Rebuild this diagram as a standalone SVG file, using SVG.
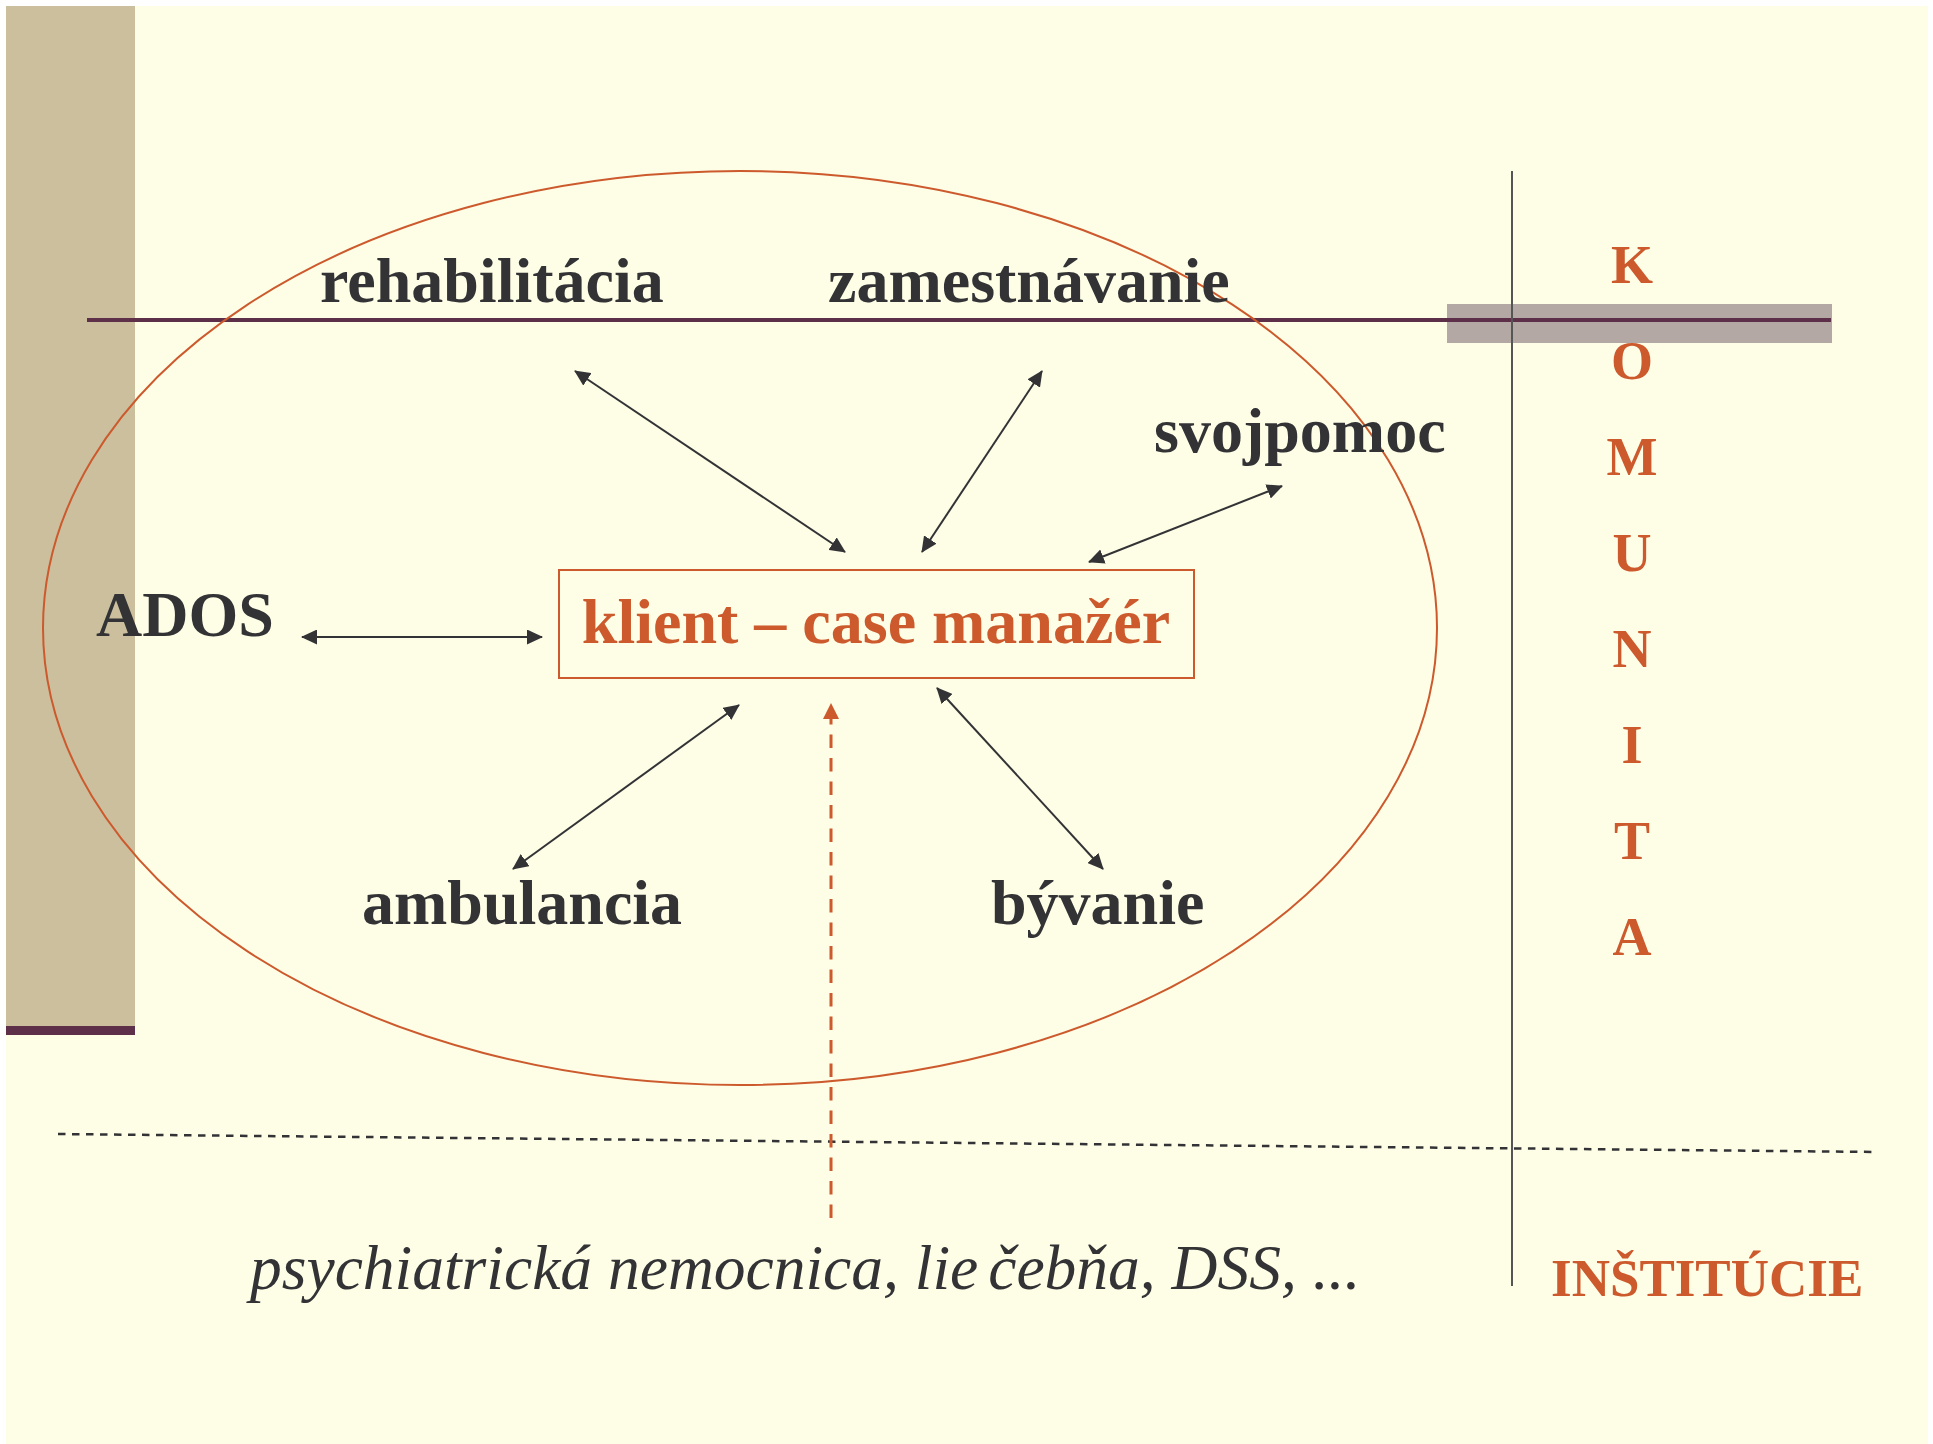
<svg xmlns="http://www.w3.org/2000/svg" width="1933" height="1444" viewBox="0 0 1933 1444">
  <style>
    .lbl { font-family: "Liberation Serif", "Times New Roman", serif; font-weight: bold; font-size: 64px; fill: #333336; }
    .org { font-family: "Liberation Serif", "Times New Roman", serif; font-weight: bold; fill: #CC5A2D; }
    .ital { font-family: "Liberation Serif", "Times New Roman", serif; font-style: italic; font-size: 63.5px; fill: #333336; }
    .conn { stroke: #333336; stroke-width: 2; fill: none; marker-start: url(#ah); marker-end: url(#ah); }
  </style>
  <defs>
    <marker id="ah" viewBox="0 0 16 15" refX="15" refY="7.5" markerWidth="16" markerHeight="15" markerUnits="userSpaceOnUse" orient="auto-start-reverse">
      <path d="M0,0 L16,7.5 L0,15 z" fill="#333336"/>
    </marker>
    <marker id="ahOrange" viewBox="0 0 16 16" refX="15" refY="8" markerWidth="16" markerHeight="16" markerUnits="userSpaceOnUse" orient="auto">
      <path d="M0,0 L16,8 L0,16 z" fill="#CC5A2D"/>
    </marker>
  </defs>

  <!-- background -->
  <rect x="0" y="0" width="1933" height="1444" fill="#FFFFFF"/>
  <rect x="6" y="6" width="1922" height="1438" fill="#FEFDE6"/>
  <rect x="6" y="6" width="129" height="1021" fill="#CBBF9E"/>
  <rect x="6" y="1026" width="129" height="9" fill="#5E2F48"/>

  <!-- gray band and lines -->
  <rect x="1447" y="304" width="385" height="39" fill="#B3A8A4"/>
  <line x1="87" y1="320" x2="1831" y2="320" stroke="#5E2F48" stroke-width="4"/>
  <line x1="1512" y1="171" x2="1512" y2="1286" stroke="#555555" stroke-width="2"/>
  <line x1="58" y1="1134" x2="1877" y2="1152" stroke="#333336" stroke-width="2.5" stroke-dasharray="7.5 6.5"/>

  <!-- community ellipse -->
  <ellipse id="ellipse" cx="740" cy="628" rx="697" ry="457" fill="none" stroke="#CC5A2D" stroke-width="2"/>

  <g id="connectors">
    <line class="conn" x1="575" y1="371" x2="845" y2="552"/>
    <line class="conn" x1="1042" y1="371" x2="922" y2="552"/>
    <line class="conn" x1="1282" y1="486" x2="1089" y2="562"/>
    <line class="conn" x1="302" y1="637" x2="542" y2="637"/>
    <line class="conn" x1="739" y1="705" x2="513" y2="869"/>
    <line class="conn" x1="937" y1="688" x2="1103" y2="869"/>
    <line x1="831" y1="1218" x2="831" y2="704" stroke="#CC5A2D" stroke-width="3" stroke-dasharray="13.5 10" marker-end="url(#ahOrange)"/>
  </g>

  <g id="node-center">
    <rect x="559" y="570" width="635" height="108" fill="none" stroke="#CC5A2D" stroke-width="2"/>
    <text class="org" x="876" y="643" font-size="64" text-anchor="middle">klient – case manažér</text>
  </g>
  <g id="node-rehabilitacia"><text class="lbl" x="320" y="302">rehabilitácia</text></g>
  <g id="node-zamestnavanie"><text class="lbl" x="828" y="302">zamestnávanie</text></g>
  <g id="node-svojpomoc"><text class="lbl" x="1154" y="452">svojpomoc</text></g>
  <g id="node-ados"><text class="lbl" x="96" y="636">ADOS</text></g>
  <g id="node-ambulancia"><text class="lbl" x="362" y="924">ambulancia</text></g>
  <g id="node-byvanie"><text class="lbl" x="991" y="924">bývanie</text></g>

  <g id="node-institucie-list">
    <text class="ital" x="250" y="1289">psychiatrická nemocnica, lie<tspan dx="10">čebňa, DSS, ...</tspan></text>
  </g>

  <g id="label-komunita" class="org" font-size="54" text-anchor="middle">
    <text x="1632" y="283">K</text>
    <text x="1632" y="379">O</text>
    <text x="1632" y="475">M</text>
    <text x="1632" y="571">U</text>
    <text x="1632" y="667">N</text>
    <text x="1632" y="763">I</text>
    <text x="1632" y="859">T</text>
    <text x="1632" y="955">A</text>
  </g>
  <g id="label-institucie">
    <text class="org" x="1551" y="1296" font-size="53">INŠTITÚCIE</text>
  </g>
</svg>
